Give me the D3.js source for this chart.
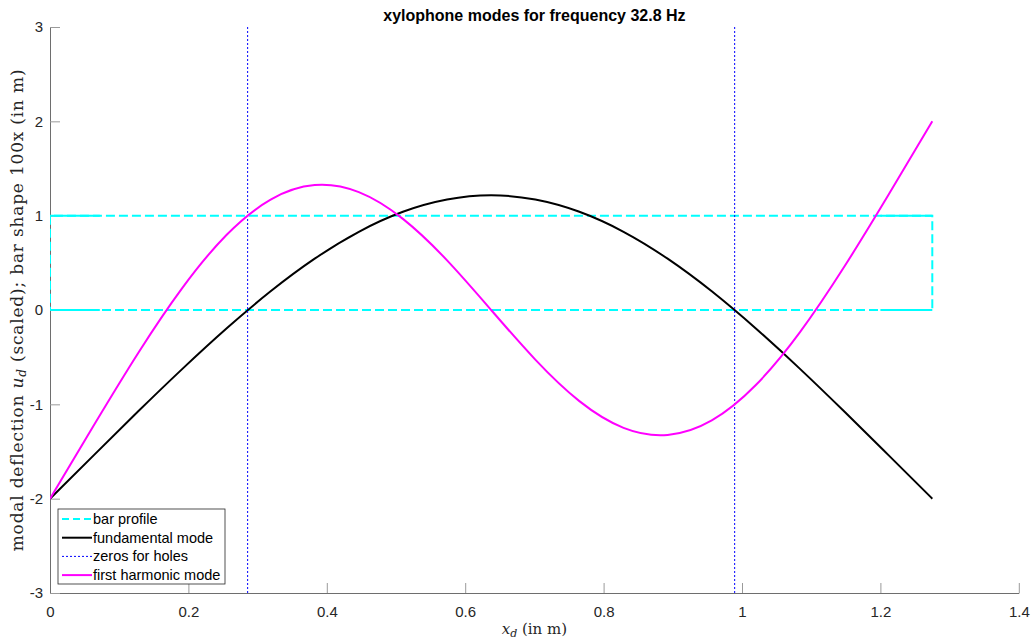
<!DOCTYPE html>
<html><head><meta charset="utf-8">
<script src="https://cdn.jsdelivr.net/npm/d3@7"></script>
<style>
html,body{margin:0;padding:0;background:#fff;}
svg{display:block;}
.tick text{font-family:"Liberation Sans",Arial,sans-serif;font-size:15px;fill:#262626;}
</style></head>
<body>
<svg id="chart" width="1034" height="640"></svg>
<script>
// ---- data ----
const xs = [0,0.0638,0.1275,0.1913,0.255,0.3188,0.3825,0.4463,0.51,0.5738,0.6375,0.7013,0.765,0.8288,0.8925,0.9563,1.02,1.0838,1.1475,1.2113,1.275];
const fundamental = [-2,-1.536,-1.074,-0.624,-0.196,0.198,0.544,0.829,1.041,1.171,1.216,1.171,1.041,0.829,0.544,0.198,-0.196,-0.624,-1.074,-1.536,-2];
const harmonic = [-2,-1.216,-0.455,0.235,0.795,1.170,1.324,1.249,0.966,0.526,0,-0.526,-0.966,-1.249,-1.324,-1.170,-0.795,-0.235,0.455,1.216,2];
const barX = [0,1.275,1.275,0,0];
const barY = [0,0,1,1,0];
const barOverlapX = [[0,0.072],[1.2,1.275],[0,0.072],[1.2,1.275]];
const barOverlapY = [0,0,1,1];
const holeXs = [0.2856,0.9894];
const xTicks = [0,0.2,0.4,0.6,0.8,1,1.2,1.4];
const yTicks = [-3,-2,-1,0,1,2,3];
const legendLabels = ["bar profile","fundamental mode","zeros for holes","first harmonic mode"];
const titleText = "xylophone modes for frequency 32.8 Hz";

const svg = d3.select("#chart");
const L = 50, R = 1018.8, T = 27, B = 593;
const x = d3.scaleLinear().domain([0,1.4]).range([L,R]);
const y = d3.scaleLinear().domain([-3,3]).range([B,T]);

svg.append("defs").append("clipPath").attr("id","clip")
  .append("rect").attr("x",L).attr("y",T).attr("width",R-L).attr("height",B-T);

// axes
const gx = svg.append("g").attr("transform",`translate(0,${B})`)
  .call(d3.axisBottom(x).tickValues(xTicks).tickSizeInner(-10).tickSizeOuter(0).tickPadding(13)
        .tickFormat(d=>String(d)));
const gy = svg.append("g").attr("transform",`translate(${L},0)`)
  .call(d3.axisLeft(y).tickValues(yTicks).tickSizeInner(-10).tickSizeOuter(0).tickPadding(7)
        .tickFormat(d=>String(d)));
[gx,gy].forEach(g=>{
  g.select(".domain").attr("stroke","#6e6e6e").attr("stroke-width",1);
  g.selectAll(".tick line").attr("stroke","#9a9a9a").attr("stroke-width",1);
});

const plot = svg.append("g").attr("clip-path","url(#clip)");
const line = d3.line().x(d=>x(d[0])).y(d=>y(d[1]));
const curve = d3.line().x(d=>x(d[0])).y(d=>y(d[1])).curve(d3.curveNatural);

// bar profile
plot.append("path").datum(barX.map((v,i)=>[v,barY[i]]))
  .attr("d",line).attr("fill","none").attr("stroke","#00ffff").attr("stroke-width",2)
  .attr("stroke-dasharray","9,4");
barOverlapX.forEach((seg,i)=>{
  plot.append("path").datum(seg.map(v=>[v,barOverlapY[i]]))
    .attr("d",line).attr("fill","none").attr("stroke","#00ffff").attr("stroke-width",2);
});
// fundamental
plot.append("path").datum(xs.map((v,i)=>[v,fundamental[i]]))
  .attr("d",curve).attr("fill","none").attr("stroke","#000").attr("stroke-width",2);
// zeros for holes
holeXs.forEach(h=>{
  plot.append("path").datum([[h,-3],[h,3]])
    .attr("d",line).attr("fill","none").attr("stroke","#0000ff").attr("stroke-width",1)
    .attr("stroke-dasharray","2,2");
});
// first harmonic
plot.append("path").datum(xs.map((v,i)=>[v,harmonic[i]]))
  .attr("d",curve).attr("fill","none").attr("stroke","#ff00ff").attr("stroke-width",2);

// title
svg.append("text").attr("x",(L+R)/2).attr("y",21).attr("text-anchor","middle")
  .attr("font-family","Liberation Sans, Arial, sans-serif").attr("font-size",16)
  .attr("font-weight","bold").attr("fill","#000").text(titleText);

// x label
const xl = svg.append("text").attr("x",(L+R)/2).attr("y",634).attr("text-anchor","middle")
  .attr("font-family","DejaVu Serif, serif").attr("font-size",15).attr("fill","#262626");
xl.append("tspan").attr("font-style","italic").text("x");
xl.append("tspan").attr("font-style","italic").attr("font-size",11).attr("dy",3).text("d");
xl.append("tspan").attr("dy",-3).text(" (in m)");

// y label
const yl = svg.append("text").attr("transform",`translate(23,${(T+B)/2}) rotate(-90)`).attr("text-anchor","middle")
  .attr("font-family","DejaVu Serif, serif").attr("font-size",17).attr("letter-spacing",0.8).attr("fill","#262626");
yl.append("tspan").text("modal deflection ");
yl.append("tspan").attr("font-style","italic").text("u");
yl.append("tspan").attr("font-style","italic").attr("font-size",12).attr("dy",3).text("d");
yl.append("tspan").attr("dy",-3).text(" (scaled); bar shape 100x (in m)");

// legend
const lg = svg.append("g");
lg.append("rect").attr("x",58).attr("y",509).attr("width",167).attr("height",75)
  .attr("fill","#fff").attr("stroke","#262626").attr("stroke-width",0.8);
const lstyles = [
  {c:"#00ffff",w:2,d:"7,4"},
  {c:"#000",w:2,d:null},
  {c:"#0000ff",w:1,d:"2,2"},
  {c:"#ff00ff",w:2,d:null}
];
legendLabels.forEach((lab,i)=>{
  const yy = 519 + i*18.7;
  const s = lstyles[i];
  const p = lg.append("line").attr("x1",62).attr("x2",92).attr("y1",yy).attr("y2",yy)
    .attr("stroke",s.c).attr("stroke-width",s.w);
  if(s.d) p.attr("stroke-dasharray",s.d);
  lg.append("text").attr("x",93).attr("y",yy+5).attr("font-family","Liberation Sans, Arial, sans-serif")
    .attr("font-size",14.5).attr("fill","#000").text(lab);
});
</script>
</body></html>
